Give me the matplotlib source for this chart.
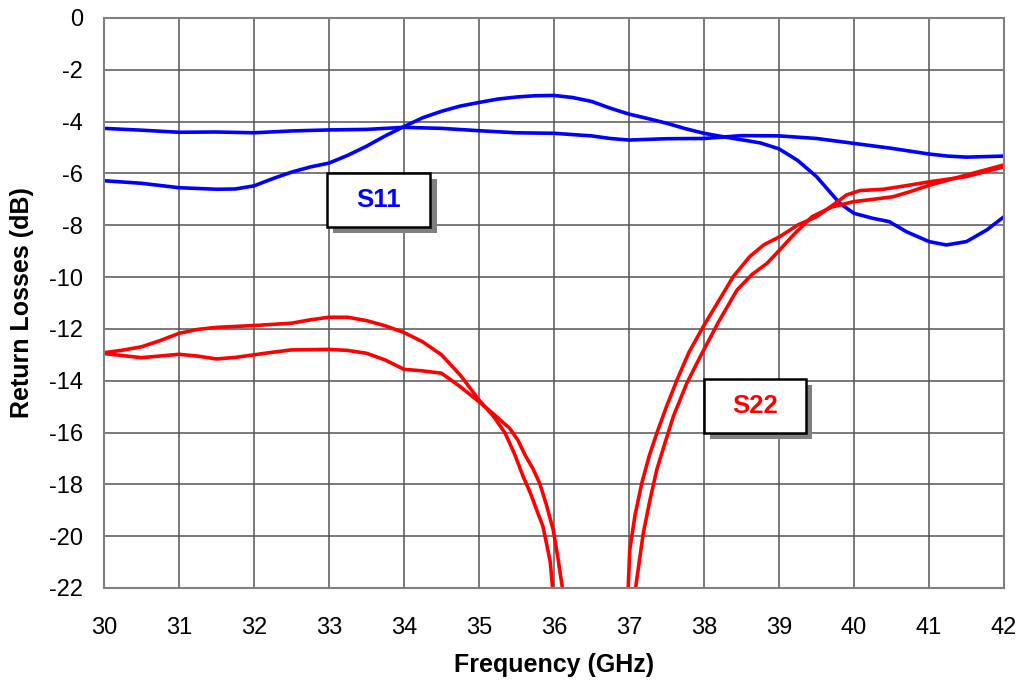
import matplotlib
matplotlib.use("Agg")
import matplotlib.pyplot as plt
from matplotlib.patches import Rectangle
import matplotlib.patheffects as pe

plt.rcParams['font.family'] = ['Liberation Sans', 'DejaVu Sans']

# S11 curve A (flat around -4.4 dB)
s11a_f = [30, 30.5, 31, 31.5, 32, 32.5, 33, 33.5, 34, 34.5, 35, 35.5, 36, 36.5, 36.75, 37, 37.5, 38, 38.5, 39, 39.5, 40, 40.5, 41, 41.25, 41.5, 42]
s11a_db = [-4.26, -4.33, -4.41, -4.40, -4.43, -4.36, -4.32, -4.30, -4.22, -4.26, -4.35, -4.43, -4.45, -4.55, -4.65, -4.71, -4.66, -4.65, -4.54, -4.55, -4.65, -4.84, -5.03, -5.25, -5.33, -5.37, -5.33]

# S11 curve B (peak around -3 dB at 36 GHz)
s11b_f = [30, 30.5, 31, 31.5, 31.75, 32, 32.25, 32.5, 32.75, 33, 33.25, 33.5, 33.75, 34, 34.25, 34.5, 34.75, 35, 35.25, 35.5, 35.75, 36, 36.25, 36.5, 36.75, 37, 37.25, 37.5, 37.75, 38, 38.25, 38.5, 38.75, 39, 39.25, 39.5, 39.81, 40, 40.25, 40.47, 40.7, 41, 41.23, 41.5, 41.77, 42]
s11b_db = [-6.28, -6.38, -6.55, -6.61, -6.6, -6.48, -6.2, -5.95, -5.75, -5.6, -5.3, -4.95, -4.55, -4.19, -3.85, -3.6, -3.4, -3.26, -3.13, -3.05, -3.0, -2.99, -3.07, -3.22, -3.48, -3.71, -3.88, -4.06, -4.27, -4.45, -4.58, -4.7, -4.82, -5.05, -5.5, -6.12, -7.15, -7.54, -7.73, -7.86, -8.25, -8.63, -8.76, -8.63, -8.18, -7.67]

# S22 curve C (upper at low freq)
s22c_f = [30, 30.25, 30.5, 30.75, 31, 31.25, 31.5, 32, 32.5, 32.75, 33, 33.25, 33.5, 33.75, 34, 34.25, 34.5, 34.75, 35, 35.2, 35.35, 35.47, 35.59, 35.68, 35.77, 35.85, 35.9, 35.95, 35.98, 36.0]
s22c_db = [-12.92, -12.82, -12.69, -12.45, -12.17, -12.02, -11.94, -11.87, -11.78, -11.65, -11.55, -11.55, -11.68, -11.88, -12.14, -12.5, -13.0, -13.78, -14.74, -15.4, -16.03, -16.8, -17.7, -18.3, -18.99, -19.6, -20.27, -21.0, -21.95, -22.5]
# S22 curve D (lower at low freq)
s22d_f = [30, 30.5, 31, 31.25, 31.5, 31.75, 32, 32.25, 32.5, 33, 33.25, 33.5, 33.75, 34, 34.25, 34.5, 34.75, 35, 35.2, 35.41, 35.52, 35.62, 35.72, 35.81, 35.9, 35.99, 36.05, 36.11, 36.13]
s22d_db = [-12.95, -13.11, -12.98, -13.05, -13.16, -13.1, -13.0, -12.9, -12.81, -12.79, -12.83, -12.94, -13.2, -13.56, -13.62, -13.71, -14.23, -14.81, -15.3, -15.84, -16.3, -16.9, -17.4, -17.96, -18.8, -19.76, -20.8, -21.95, -22.5]
# S22 curve E (upper branch at high freq)
s22e_f = [36.98, 36.99, 37.01, 37.08, 37.17, 37.27, 37.37, 37.5, 37.64, 37.8, 37.99, 38.2, 38.39, 38.61, 38.8, 39.01, 39.25, 39.5, 39.72, 39.9, 40.08, 40.39, 40.7, 41.01, 41.5, 42]
s22e_db = [-22.5, -21.95, -20.53, -19.2, -17.96, -16.9, -16.03, -15.0, -13.97, -12.9, -11.91, -10.9, -9.98, -9.21, -8.75, -8.44, -7.99, -7.67, -7.22, -6.83, -6.66, -6.61, -6.47, -6.32, -6.12, -5.74]
# S22 curve F (lower branch at high freq)
s22f_f = [37.08, 37.09, 37.19, 37.28, 37.37, 37.48, 37.59, 37.77, 37.95, 38.2, 38.44, 38.64, 38.84, 39.01, 39.2, 39.44, 39.7, 39.99, 40.25, 40.52, 40.75, 41.01, 41.5, 42]
s22f_db = [-22.5, -21.95, -19.89, -18.6, -17.44, -16.4, -15.39, -14.1, -13.07, -11.7, -10.5, -9.9, -9.47, -8.95, -8.35, -7.67, -7.3, -7.09, -7.0, -6.9, -6.7, -6.45, -6.06, -5.67]

x_ticks = list(range(30, 43))
y_ticks = list(range(-22, 1, 2))

fig = plt.figure(figsize=(10.24, 6.86), dpi=100)
ax = fig.add_axes([104/1024, 1 - 588/686, 900/1024, 570/686])

blue = '#0000ff'
red = '#ff0000'
lw = 2.6
ax.plot(s11a_f, s11a_db, color=blue, lw=lw, solid_capstyle='round', solid_joinstyle='round')
ax.plot(s11b_f, s11b_db, color=blue, lw=lw, solid_capstyle='round', solid_joinstyle='round')
for f, d in [(s22c_f, s22c_db), (s22d_f, s22d_db), (s22e_f, s22e_db), (s22f_f, s22f_db)]:
    ax.plot(f, d, color=red, lw=lw, solid_capstyle='round', solid_joinstyle='round')

ax.set_xlim(30, 42)
ax.set_ylim(-22, 0)
ax.set_xticks(x_ticks)
ax.set_yticks(y_ticks)
ax.set_xticklabels([str(v) for v in x_ticks])
ax.set_yticklabels([str(v) for v in y_ticks])
ax.tick_params(length=0, labelsize=17)
ax.tick_params(axis='x', pad=21)
ax.tick_params(axis='y', pad=15)
ax.grid(True, color='#555555', lw=1.1)
ax.set_axisbelow(True)
for s in ax.spines.values():
    s.set_color('#808080')
    s.set_linewidth(1.5)

ax.set_xlabel('Frequency (GHz)', fontsize=18, fontweight='bold', va='center')
ax.set_ylabel('Return Losses (dB)', fontsize=18, fontweight='bold', va='center')
ax.xaxis.set_label_coords(0.5, (588 - 665) / 570)
ax.yaxis.set_label_coords((22 - 104) / 900, 0.5)

def label_box(x0, x1, y0, y1, text, color):
    r = Rectangle((x0, y1), x1 - x0, y0 - y1, facecolor='white', edgecolor='black', lw=1.8, zorder=5)
    r.set_path_effects([pe.SimplePatchShadow(offset=(4.5, -4.5), shadow_rgbFace='#808080', alpha=1.0), pe.Normal()])
    ax.add_patch(r)
    ax.text((x0 + x1) / 2, (y0 + y1) / 2, text, color=color, fontsize=18.5, fontweight='bold',
            ha='center', va='center', zorder=6)

label_box(32.97, 34.35, -5.98, -8.07, 'S11', blue)
label_box(38.0, 39.36, -13.93, -16.02, 'S22', red)

fig.savefig('out.png', dpi=100)
